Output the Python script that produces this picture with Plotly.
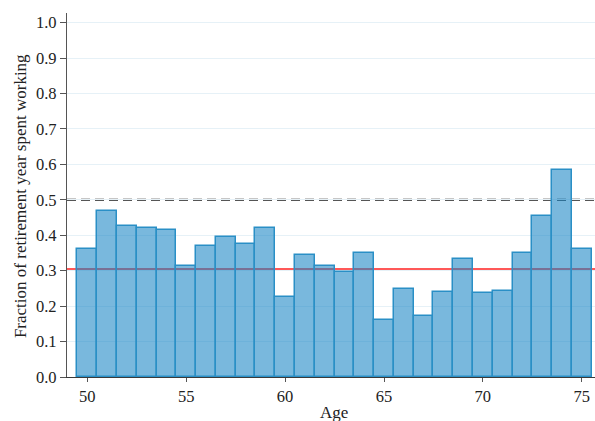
import plotly.graph_objects as go

ages = list(range(50, 76))
fractions = [0.361, 0.469, 0.427, 0.420, 0.414, 0.313, 0.371, 0.396, 0.374, 0.420,
             0.226, 0.345, 0.313, 0.296, 0.351, 0.162, 0.247, 0.171, 0.239, 0.334,
             0.238, 0.244, 0.351, 0.453, 0.583, 0.362]
mean_line = 0.305
half_line = 0.5
y_ticks = [0.0, 0.1, 0.2, 0.3, 0.4, 0.5, 0.6, 0.7, 0.8, 0.9, 1.0]
x_ticks = [50, 55, 60, 65, 70, 75]
x_title = "Age"
y_title = "Fraction of retirement year spent working"

SERIF = "Liberation Serif, Times New Roman, serif"

fig = go.Figure()
fig.add_trace(go.Bar(
    x=ages, y=fractions, width=1.0,
    marker=dict(color="rgba(20,130,195,0.57)",
                line=dict(color="#2a8fc6", width=1.5)),
    showlegend=False, hoverinfo="skip",
))

fig.add_shape(type="line", xref="paper", x0=0, x1=1, yref="y", y0=half_line, y1=half_line,
              line=dict(color="#1e1e1e", width=2, dash="9px,5px"), layer="below")
fig.add_shape(type="line", xref="paper", x0=0, x1=1, yref="y", y0=mean_line, y1=mean_line,
              line=dict(color="#ff2020", width=1.5), layer="below")

tick_font = dict(family=SERIF, size=16.5, color="#222222")
title_font = dict(family=SERIF, size=17, color="#222222")

fig.add_annotation(text=x_title, xref="paper", yref="paper", x=0.505, y=0,
                   yshift=-35, yanchor="middle", xanchor="center", showarrow=False,
                   font=title_font)
fig.add_annotation(text=y_title, xref="paper", yref="paper", x=0, y=0.497,
                   xshift=-47, xanchor="center", yanchor="middle", textangle=-90,
                   showarrow=False, font=title_font)

fig.update_layout(
    template="none",
    width=595, height=421,
    margin=dict(l=67, r=0, t=13, b=44),
    plot_bgcolor="white", paper_bgcolor="white",
    font=tick_font,
    bargap=0,
    xaxis=dict(
        range=[48.97, 75.67], tickmode="array", tickvals=x_ticks,
        tickfont=tick_font,
        ticks="outside", ticklen=4, tickcolor="#555555", tickwidth=1,
        showline=True, linecolor="#3a3a3a", linewidth=1.3,
        showgrid=False, zeroline=False, automargin=False,
    ),
    yaxis=dict(
        range=[0, 1.027], tickmode="array", tickvals=y_ticks, tickformat=".1f",
        tickfont=tick_font,
        ticks="outside", ticklen=6, tickcolor="#555555", tickwidth=1,
        showline=True, linecolor="#555555", linewidth=1.3,
        showgrid=True, gridcolor="#e6f1f7", gridwidth=1.2, zeroline=False,
        automargin=False,
    ),
)

# remove the page's default body margin so the 595x421 figure fills the window
fig.write_html(
    "out.html",
    config={"displayModeBar": False},
    post_script="document.body.style.margin='0';document.documentElement.style.overflow='hidden';",
)
